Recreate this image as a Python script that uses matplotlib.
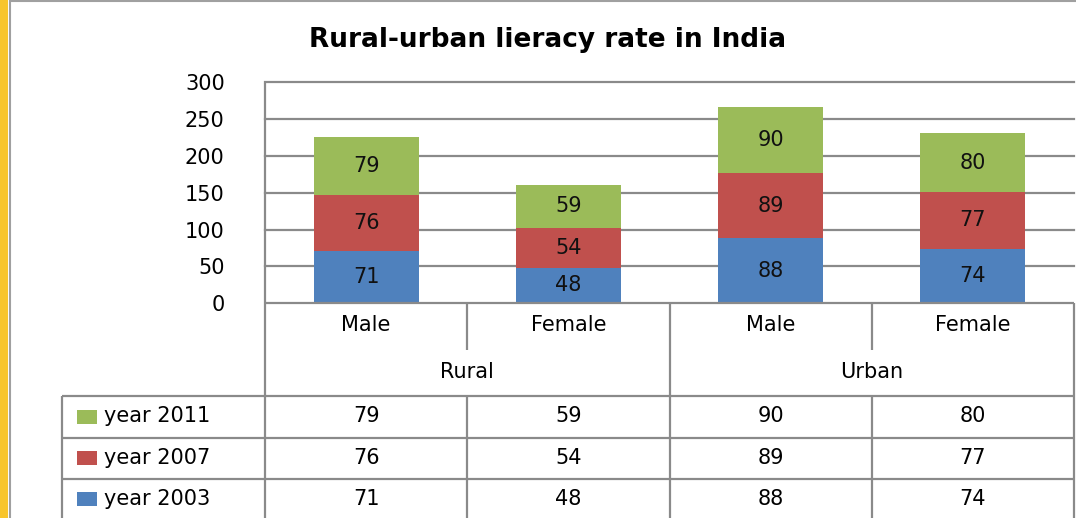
import matplotlib
matplotlib.use("Agg")
import matplotlib.pyplot as plt
from matplotlib.lines import Line2D
from matplotlib.patches import Rectangle
import numpy as np

plt.rcParams['font.family'] = ['DejaVu Sans']

title = "Rural-urban lieracy rate in India"
subcats = ["Male", "Female", "Male", "Female"]
groups = ["Rural", "Urban"]
series_names = ["year 2003", "year 2007", "year 2011"]
y2003 = [71, 48, 88, 74]
y2007 = [76, 54, 89, 77]
y2011 = [79, 59, 90, 80]
series = [y2003, y2007, y2011]
colors = ["#4F81BD", "#C0504D", "#9BBB59"]
yticks = [0, 50, 100, 150, 200, 250, 300]

W, H = 1076, 518
fig = plt.figure(figsize=(W / 100, H / 100), dpi=100)
fig.patch.set_facecolor("white")

def fx(x):
    return x / W

def fy(y):
    return 1 - y / H

GRID = "#8a8a8a"
LW = 1.6
FS = 15

def hline(y, x0, x1, color=GRID, lw=LW):
    fig.add_artist(Line2D([fx(x0), fx(x1)], [fy(y), fy(y)], color=color, lw=lw,
                          transform=fig.transFigure, solid_capstyle="butt"))

def vline(x, y0, y1, color=GRID, lw=LW):
    fig.add_artist(Line2D([fx(x), fx(x)], [fy(y0), fy(y1)], color=color, lw=lw,
                          transform=fig.transFigure, solid_capstyle="butt"))

# frame decorations
fig.add_artist(Rectangle((0, 0), fx(8), 1, color="#F8C52C", transform=fig.transFigure, lw=0))
vline(9.5, 0, H, color="#a0a0a0", lw=1.5)
hline(0.5, 9, W, color="#a0a0a0", lw=1.5)

# main axes
L, R, T, B = 265, 1074, 82.5, 303
ax = fig.add_axes([fx(L), fy(B), fx(R) - fx(L), fy(T) - fy(B)])
ax.set_xlim(-0.5, len(subcats) - 0.5)
ax.set_ylim(0, 300)
for s in ax.spines.values():
    s.set_visible(False)
ax.set_yticks(yticks)
ax.set_xticks([])
ax.tick_params(axis="y", length=0, pad=29, labelsize=FS)
for t in yticks[1:]:
    ax.axhline(t, color=GRID, lw=LW, zorder=1, clip_on=False)

x = np.arange(len(subcats))
bottom = np.zeros(len(subcats))
for vals, c in zip(series, colors):
    vals = np.array(vals, dtype=float)
    ax.bar(x, vals, bottom=bottom, width=0.52, color=c, zorder=3)
    for xi, b, v in zip(x, bottom, vals):
        ax.text(xi, b + v / 2, f"{int(v)}", ha="center", va="center",
                fontsize=FS, color="#111111", zorder=4)
    bottom += vals

fig.text(fx(548), fy(40), title, ha="center", va="center", fontsize=19, fontweight="bold")

# category area and table lines
slot = (R - L) / 4
centers = [L + slot * (i + 0.5) for i in range(4)]
divs = [L + slot * i for i in range(1, 4)]

hline(B, L, R)  # axis bottom
vline(L, T, H)  # left axis line extends through table
vline(R, B, H)
vline(divs[0], B, 350)
vline(divs[2], B, 350)
vline(divs[1], B, H)

row_tops = [396, 437.5, 479]
for y in row_tops:
    hline(y, 62, R)
vline(62, 396, H)
vline(divs[0], 396, H)
vline(divs[2], 396, H)

for cx, lab in zip(centers, subcats):
    fig.text(fx(cx), fy(325), lab, ha="center", va="center", fontsize=FS)
for gi, g in enumerate(groups):
    gx = (L + slot * 2 * gi + L + slot * 2 * (gi + 1)) / 2
    fig.text(fx(gx), fy(372), g, ha="center", va="center", fontsize=FS)

# table rows (top to bottom: 2011, 2007, 2003)
row_centers = [416.5, 458, 499]
for rc, idx in zip(row_centers, [2, 1, 0]):
    fig.add_artist(Rectangle((fx(77), fy(rc + 7)), fx(97) - fx(77), fy(rc - 7) - fy(rc + 7),
                             color=colors[idx], transform=fig.transFigure, lw=0))
    fig.text(fx(104), fy(rc), series_names[idx], ha="left", va="center", fontsize=FS)
    for cx, v in zip(centers, series[idx]):
        fig.text(fx(cx), fy(rc), f"{v}", ha="center", va="center", fontsize=FS)

fig.savefig("out.png", dpi=100, facecolor="white")
